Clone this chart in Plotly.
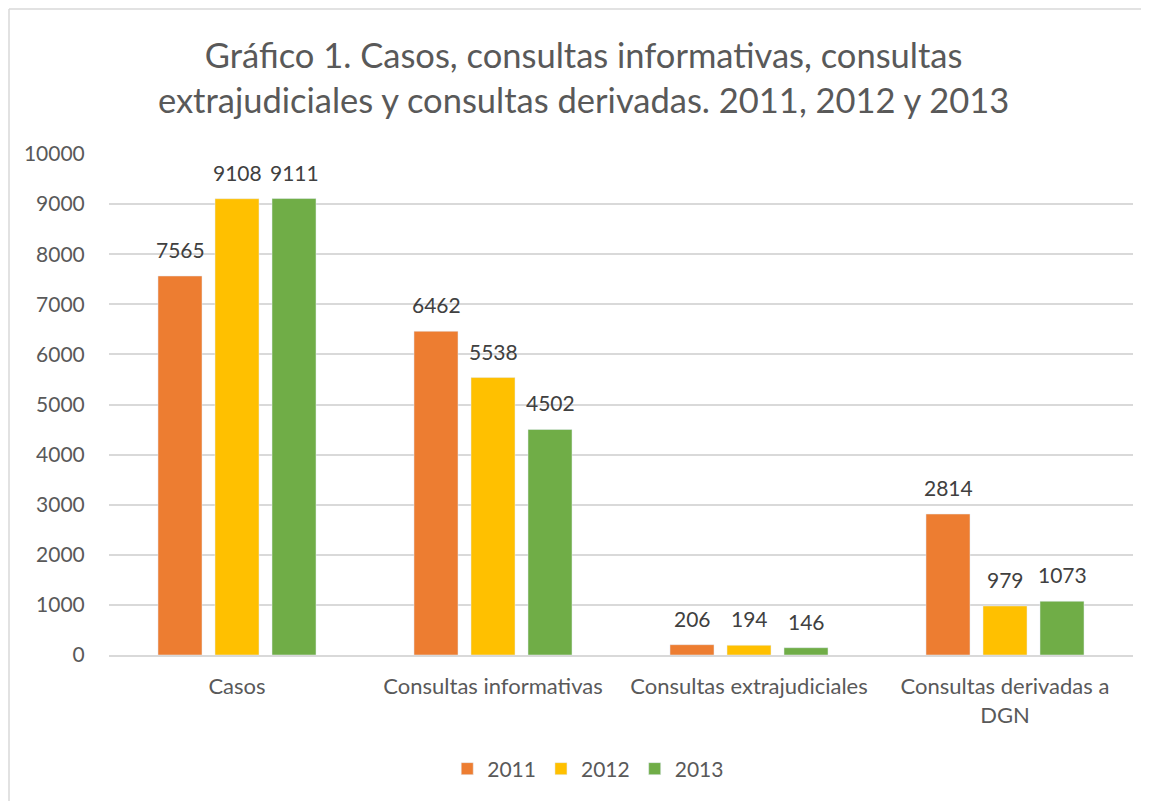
import plotly.graph_objects as go

# Data
categorias = ["Casos", "Consultas informativas", "Consultas extrajudiciales", "Consultas derivadas a<br>DGN"]
anios = ["2011", "2012", "2013"]
valores_2011 = [7565, 6462, 206, 2814]
valores_2012 = [9108, 5538, 194, 979]
valores_2013 = [9111, 4502, 146, 1073]
colores = ["#ED7D31", "#FFC000", "#70AD47"]

fuente = "Lato, 'Open Sans', sans-serif"
gris = "#595959"

series = [valores_2011, valores_2012, valores_2013]

fig = go.Figure()
for anio, vals, col in zip(anios, series, colores):
    fig.add_trace(go.Bar(x=categorias, y=vals, name=anio, marker_color=col))

# data labels as annotations so they can sit a bit higher than the bars
anotaciones = []
for i, vals in enumerate(series):
    for cat, v in zip(categorias, vals):
        anotaciones.append(dict(x=cat, y=v, text=str(v), showarrow=False,
                                xanchor="center", yanchor="bottom", yshift=12, xshift=(i - 1) * 57,
                                font=dict(size=21, color="#404040", family=fuente)))

# plot area is 1024 px wide, 501 px tall
W, H = 1024, 501
fig.update_layout(
    width=1149, height=801,
    margin=dict(l=101, r=24, t=146, b=154),
    paper_bgcolor="white", plot_bgcolor="white",
    font=dict(family=fuente, color=gris),
    title=dict(text="Gráfico 1. Casos, consultas informativas, consultas<br>extrajudiciales y consultas derivadas. 2011, 2012 y 2013",
               x=0.501, xanchor="center", y=0.925, yanchor="middle",
               font=dict(size=34.5, color=gris, family=fuente)),
    barmode="group", bargap=0.332, bargroupgap=0.228,
    showlegend=True,
    legend=dict(orientation="h", x=0.468, xanchor="center", y=-0.2275, yanchor="middle",
                font=dict(size=21, color=gris), itemwidth=30, traceorder="normal"),
    xaxis=dict(showgrid=False, showline=True, linecolor="#d9d9d9", linewidth=1.5,
               tickfont=dict(size=22, color=gris), ticks="outside", ticklen=11, tickcolor="white"),
    yaxis=dict(range=[0, 10000], dtick=1000, tickformat="d", showgrid=True, gridcolor="#d9d9d9",
               gridwidth=1.5, zeroline=False, tickfont=dict(size=21, color=gris), ticks="outside",
               ticklen=19, tickcolor="white"),
    annotations=anotaciones,
    shapes=[
        dict(type="line", xref="paper", yref="paper", x0=-100 / W, x1=1.2, y0=1 + 145 / H, y1=1 + 145 / H,
             line=dict(color="#d9d9d9", width=1.5)),
        dict(type="line", xref="paper", yref="paper", x0=-100 / W, x1=-100 / W, y0=1 + 145 / H, y1=-0.4,
             line=dict(color="#d9d9d9", width=1.5)),
    ],
)

fig.write_html("out.html")
